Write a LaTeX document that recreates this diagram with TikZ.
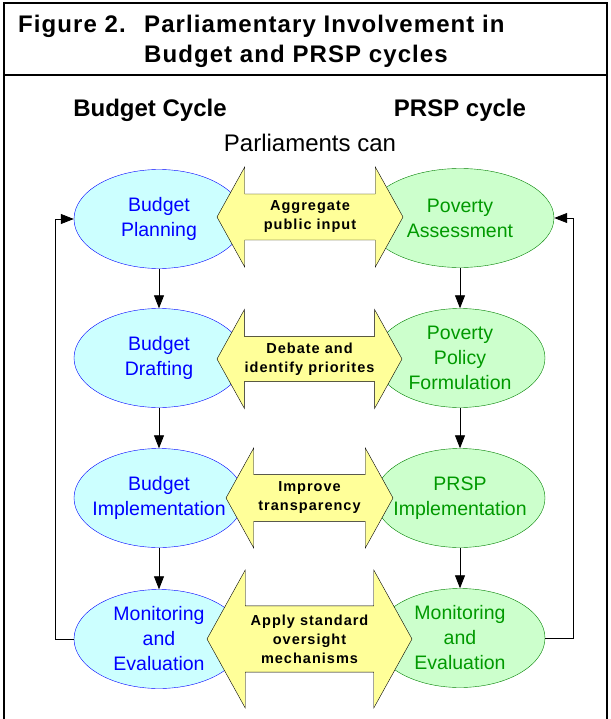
\documentclass[tikz,border=0pt]{standalone}
\usepackage{fontspec}
\setmainfont{Liberation Sans}
\newfontfamily\titlefont[LetterSpace=4.5]{Liberation Sans}
\newfontfamily\callfont[LetterSpace=7]{Liberation Sans}
\usetikzlibrary{shapes.geometric,shapes.arrows,arrows.meta}

\definecolor{budgetfill}{HTML}{CCFFFF}
\definecolor{budgetline}{HTML}{0000FF}
\definecolor{prspfill}{HTML}{CCFFCC}
\definecolor{prspline}{HTML}{008000}
\definecolor{prsptext}{HTML}{009900}
\definecolor{callfill}{HTML}{FFFF99}

\tikzset{
  budget/.style={ellipse, draw=budgetline, fill=budgetfill, inner sep=0pt,
    minimum width=170pt, minimum height=99pt},
  prsp/.style={ellipse, draw=prspline, fill=prspfill, inner sep=0pt,
    minimum width=170pt, minimum height=99pt},
  btext/.style={text=budgetline, align=center, inner sep=0pt,
    font=\fontsize{19.5}{25}\selectfont},
  ptext/.style={text=prsptext, align=center, inner sep=0pt,
    font=\fontsize{19.5}{25}\selectfont},
  call/.style={double arrow, draw=black, fill=callfill, double arrow tip angle=122,
    inner sep=0pt, align=center, font=\callfont\bfseries\fontsize{14.5}{19}\selectfont},
  heading/.style={anchor=base, inner sep=0pt, font=\bfseries\fontsize{24}{29}\selectfont},
  titletext/.style={anchor=base west, inner sep=0pt,
    font=\titlefont\bfseries\fontsize{24}{30}\selectfont}
}

\begin{document}
\begin{tikzpicture}[x=1pt,y=-1pt]
        \useasboundingbox (0,0) rectangle (610,719);
        % frame and title
        \draw[line width=1.5pt] (4,719) -- (4,3) -- (607,3) -- (607,719);
        \draw[line width=1.5pt] (4,75) -- (607,75);
        \node[titletext] (fig) at (18,33) {Figure 2.};
        \node[titletext] (title1) at (144,33) {Parliamentary Involvement in};
        \node[titletext] (title2) at (144,63) {Budget and PRSP cycles};
        \node[heading] (bhead) at (150,117) {Budget Cycle};
        \node[heading] (phead) at (460,117) {PRSP cycle};
        \node[anchor=base, inner sep=0pt, font=\fontsize{24}{29}\selectfont] (can) at (310,152) {Parliaments can};

        % budget cycle
        \node[budget, label={[btext]center:{Budget\\Planning}}] at (159,219) (bp) {};
        \node[budget, label={[btext]center:{Budget\\Drafting}}] at (159,358) (bd) {};
        \node[budget, label={[btext]center:{Budget\\Implementation}}] at (159,498) (bi) {};
        \node[budget, label={[btext]center:{Monitoring\\and\\Evaluation}}] at (159,639) (bm) {};

        % PRSP cycle
        \node[prsp, minimum width=188pt, label={[ptext]center:{Poverty\\Assessment}}] at (460,218) (pa) {};
        \node[prsp, label={[ptext]center:{Poverty\\Policy\\Formulation}}] at (460,358) (pf) {};
        \node[prsp, label={[ptext]center:{PRSP\\Implementation}}] at (460,498) (pi) {};
        \node[prsp, label={[ptext]center:{Monitoring\\and\\Evaluation}}] at (460,638) (pm) {};

        \path[-{Triangle[length=13pt,width=10pt]}, line width=0.8pt]
        (bp) edge (bd)
        (bd) edge (bi)
        (bi) edge (bm)
        (pa) edge (pf)
        (pf) edge (pi)
        (pi) edge (pm)
        ;
        \draw[-{Triangle[length=13pt,width=10pt]}, line width=0.8pt] (bm.west) -- ++(-18,0) |- (bp.west);
        \draw[-{Triangle[length=13pt,width=10pt]}, line width=0.8pt] (pm.east) -- ++(28,0) |- (pa.east);

        % what parliaments can do
        \node[call, minimum height=186pt, minimum width=100pt, double arrow head extend=19pt]
          at (310,217) (agg) {Aggregate\\public input};
        \node[call, minimum height=185pt, minimum width=99pt, double arrow head extend=19.5pt]
          at (309.5,359) (deb) {Debate and\\identify priorites};
        \node[call, minimum height=167pt, minimum width=100pt, double arrow head extend=18.5pt]
          at (309.5,498) (imp) {Improve\\transparency};
        \node[call, minimum height=205pt, minimum width=138pt, double arrow head extend=26.5pt]
          at (309.5,639) (app) {Apply standard\\oversight\\mechanisms};
    \end{tikzpicture}
\end{document}
